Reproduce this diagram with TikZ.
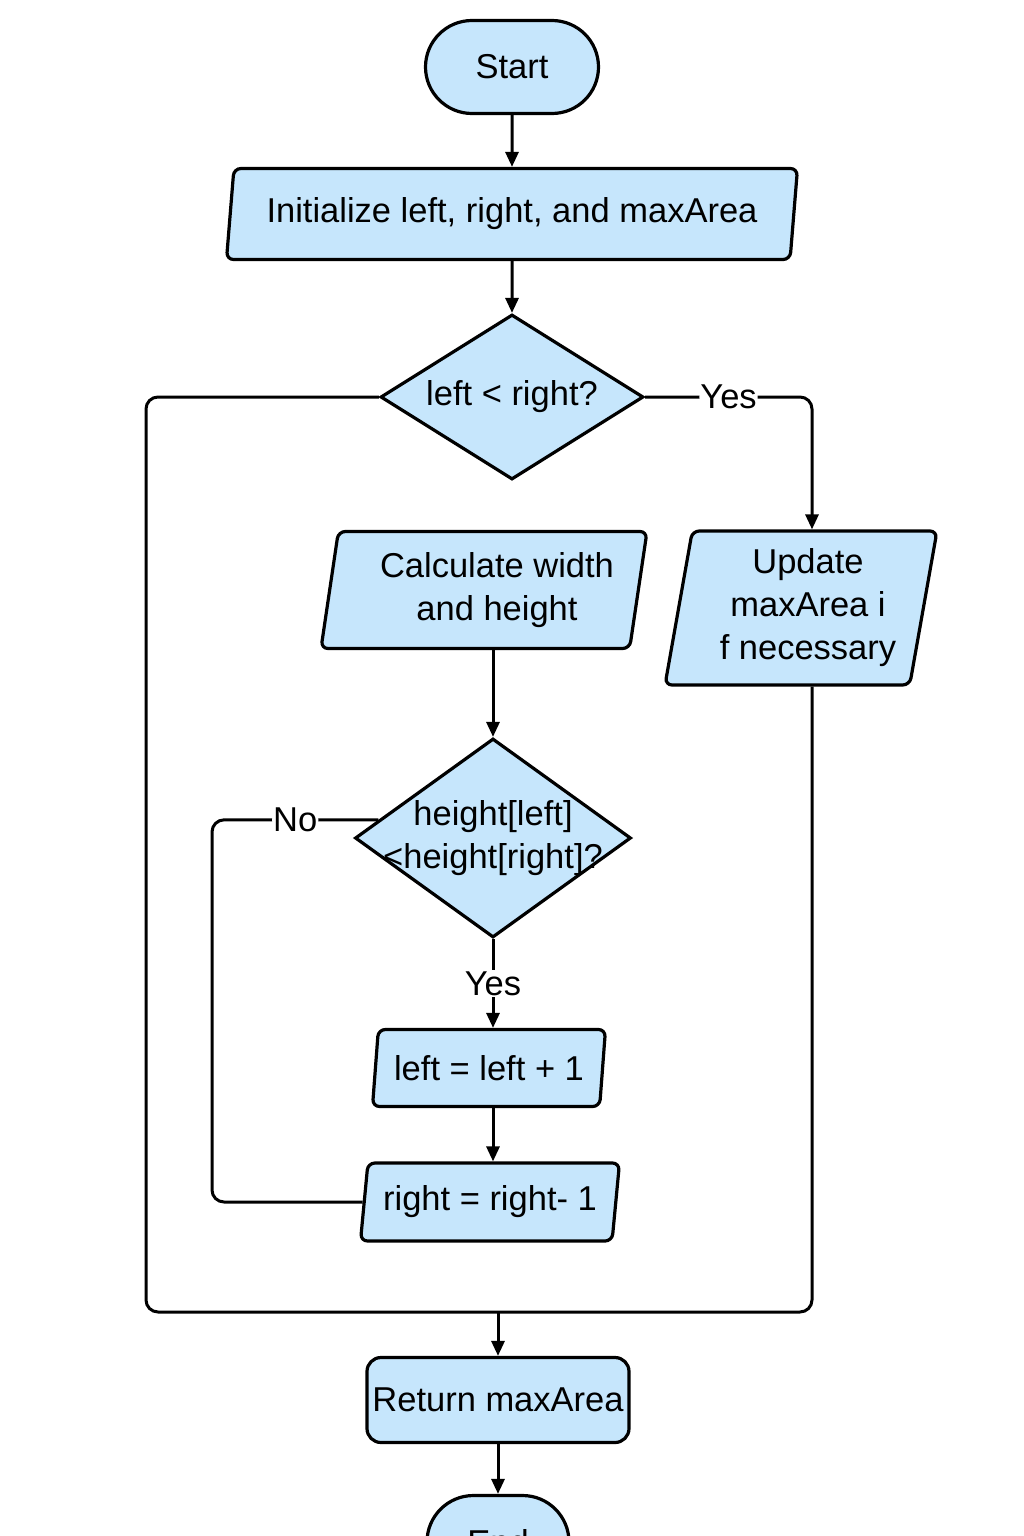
\documentclass[tikz,border=0pt]{standalone}
\usepackage{fontspec}
\setmainfont{Liberation Sans}
\usetikzlibrary{calc}
\usetikzlibrary{positioning, shapes, arrows.meta}
\definecolor{boxblue}{HTML}{C6E6FC}

\begin{document}
\begin{tikzpicture}[x=1pt, y=-1pt,
font=\fontsize{34.5pt}{43pt}\selectfont,
term/.style={
  rounded rectangle, draw, fill=boxblue,
  line width=3.2pt, minimum height=93pt, inner sep=0pt
},
io/.style={
  trapezium, trapezium left angle=77, trapezium right angle=103,
  trapezium stretches body,
  draw, fill=boxblue, line width=3.2pt, rounded corners=7pt,
  align=center, inner sep=0pt
},
decision/.style={
  diamond, draw, fill=boxblue, line width=3.2pt, inner sep=0pt
},
flow/.style={-{Triangle[length=15pt,width=13pt]}, line width=3pt},
link/.style={line width=3pt, rounded corners=12pt},
lbl/.style={fill=white, inner sep=1pt}
]

\fill[white] (0,0) rectangle (1024,1536);
\useasboundingbox (0,0) rectangle (1024,1536);

\node (start) [term, minimum width=173pt] at (512,67) {Start};
\node (init) [io, minimum width=571pt, minimum height=91pt] at (512,214)
        {Initialize left, right, and maxArea};
\node (cond) [decision, minimum width=263pt, minimum height=165pt,
        label=center:{left < right?}] at (512,397) {};
\node (calc) [io, minimum width=326pt, minimum height=117pt] at (484,590)
        {\hspace*{26pt}Calculate width\\\hspace*{26pt}and height};
\node (upd) [io, minimum width=272pt, minimum height=154pt] at (801,608)
        {\hspace*{14pt}Update\\\hspace*{14pt}maxArea i\\\hspace*{14pt}f necessary};
\node (cmp) [decision, minimum width=276pt, minimum height=199pt,
        label={[align=center]center:{height[left]\\<height[right]?}}] at (493,838) {};
\node (incl) [io, minimum width=233pt, minimum height=77pt] at (489,1068)
        {left = left + 1};
\node (decr) [io, minimum width=259pt, minimum height=78pt] at (490,1202)
        {right = right- 1};
\node (ret) [rectangle, draw, fill=boxblue, line width=3.2pt, rounded corners=14pt,
        minimum width=262pt, minimum height=85pt, inner sep=0pt] at (498,1400)
        {Return maxArea};
\node (stop) [term, minimum width=142pt] at (498,1542) {End};

% loop corners
\coordinate (loopL) at (146,1312);
\coordinate (loopR) at (812,1312);
\coordinate (noL) at (212,1202);

\draw[flow] (start) -- (init);
\draw[flow] (init) -- (cond);
\draw[flow, link] (cond.east) -| node[lbl, pos=0.25] {Yes} (upd.north -| loopR);
\draw[link] (cond.west) -| (loopL) -| (upd.south -| loopR);
\draw[flow] (ret.north |- loopL) -- (ret.north);
\draw[flow] (calc.south -| cmp) -- (cmp.north);
\draw[link] (cmp.171) -| node[lbl, pos=0.25] {No} (noL) -- (decr.west);
\draw[flow] (cmp.south) -- node[lbl] {Yes} (incl.north -| cmp.south);
\draw[flow] (incl.south -| cmp.south) -- (decr.north -| cmp.south);
\draw[flow] (ret) -- (stop);
\end{tikzpicture}
\end{document}
